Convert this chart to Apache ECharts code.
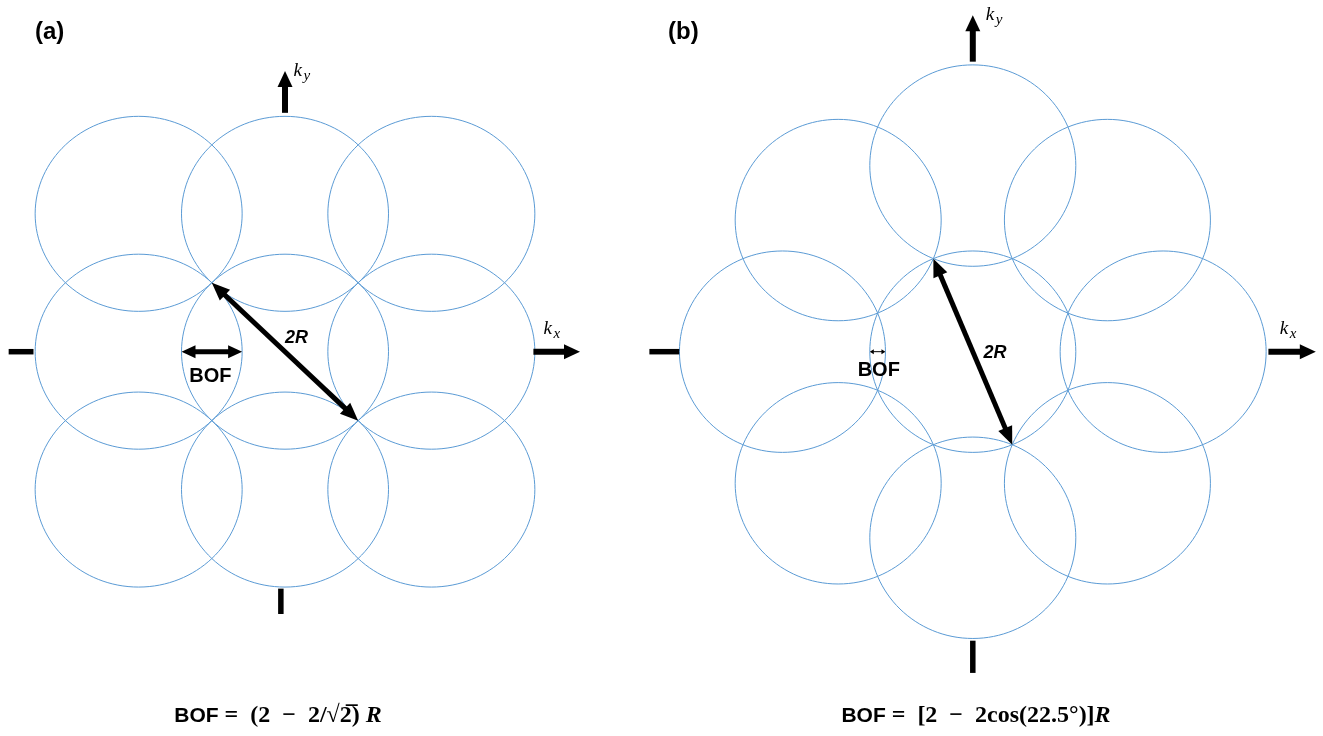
<!DOCTYPE html>
<html>
<head>
<meta charset="utf-8">
<script src="https://cdn.jsdelivr.net/npm/echarts@6/dist/echarts.min.js"></script>
<style>
html,body{margin:0;padding:0;background:#ffffff;}
#chart{width:1323px;height:736px;}
</style>
</head>
<body>
<div id="chart"></div>
<script>
// ================= DATA (all in units of the circle radius R) =================
const R = 1;

// (a) square lattice of 9 circles: centre coordinates
const centersA_x = [-1.414, 0, 1.414, -1.414, 0, 1.414, -1.414, 0, 1.414];
const centersA_y = [1.414, 1.414, 1.414, 0, 0, 0, -1.414, -1.414, -1.414];

// (b) centre circle + 8 circles around it
const centersB_x = [0, 1.848, 1.307, 0, -1.307, -1.848, -1.307, 0, 1.307];
const centersB_y = [0, 0, 1.307, 1.848, 1.307, 0, -1.307, -1.848, -1.307];

// segments [x1, y1, x2, y2] for panel (a)
const kyAxisA = [0, 2.45, 0, 2.88];
const kyTailA = [-0.04, -2.43, -0.04, -2.69];
const kxAxisA = [2.40, 0, 2.85, 0];
const kxTailA = [-2.67, 0, -2.43, 0];
const twoRA   = [-0.707, 0.707, 0.707, -0.707];
const bofA    = [-1, 0, -0.414, 0];

// segments [x1, y1, x2, y2] for panel (b)
const kyAxisB = [0, 2.88, 0, 3.34];
const kyTailB = [0, -2.87, 0, -3.19];
const kxAxisB = [2.87, 0, 3.33, 0];
const kxTailB = [-3.14, 0, -2.85, 0];
const twoRB   = [-0.383, 0.924, 0.383, -0.924];
const bofB    = [-1, 0, -0.848, 0];

// texts
const panelTitles = ['(a)', '(b)'];
const markLabels = ['2R', 'BOF'];
const axisLetter = 'k';
const axisSubs = ['x', 'y'];
const equationA = ['BOF', ' =  (2  −  2/√2\u0305) ', 'R'];
const equationB = ['BOF', ' =  [2  −  2cos(22.5°)]', 'R'];

// ================= STYLES / LAYOUT =================
const CIRCLE_COLOR = '#5b9bd5';
const AXIS  = {w: 6, hl: 16, hw: 15, start: false, end: true};
const TAIL  = {w: 5.5, hl: 0, hw: 0, start: false, end: false};
const TWO_R = {w: 5, hl: 18, hw: 15, start: true, end: true};
const BOF_BIG = {w: 5, hl: 14, hw: 13, start: true, end: true};
const BOF_SMALL = {w: 1, hl: 4, hw: 5, start: true, end: true};

const segsA = [kyAxisA, kyTailA, kxAxisA, kxTailA, twoRA, bofA];
const stylesA = [AXIS, TAIL, AXIS, TAIL, TWO_R, BOF_BIG];
const segsB = [kyAxisB, kyTailB, kxAxisB, kxTailB, twoRB, bofB];
const stylesB = [AXIS, TAIL, AXIS, TAIL, TWO_R, BOF_SMALL];

// label anchors (data coords) : 2R centre, BOF centre
const markPosA = [[0.111, 0.14], [-0.72, -0.254]];
const markPosB = [[0.215, -0.01], [-0.913, -0.19]];
// axis-name anchors (data coords, left / baseline of "k"): kx, ky
const axisNamePosA = [[2.498, 0.171], [0.082, 2.817]];
const axisNamePosB = [[2.981, 0.166], [0.125, 3.284]];

function arrowEls(p1, p2, st) {
  const dx = p2[0] - p1[0], dy = p2[1] - p1[1];
  const len = Math.hypot(dx, dy) || 1;
  const ux = dx / len, uy = dy / len, nx = -uy, ny = ux;
  const els = [];
  let s = p1.slice(), e = p2.slice();
  const head = (tip, d) => {
    const bx = tip[0] - d[0] * st.hl, by = tip[1] - d[1] * st.hl;
    return {type: 'polygon', shape: {points: [[tip[0], tip[1]],
      [bx + nx * st.hw / 2, by + ny * st.hw / 2], [bx - nx * st.hw / 2, by - ny * st.hw / 2]]},
      style: {fill: '#000'}};
  };
  if (st.start) { els.push(head(p1, [-ux, -uy])); s = [p1[0] + ux * st.hl * 0.85, p1[1] + uy * st.hl * 0.85]; }
  if (st.end) { els.push(head(p2, [ux, uy])); e = [p2[0] - ux * st.hl * 0.85, p2[1] - uy * st.hl * 0.85]; }
  els.unshift({type: 'line', shape: {x1: s[0], y1: s[1], x2: e[0], y2: e[1]},
    style: {stroke: '#000', lineWidth: st.w, lineCap: 'butt'}});
  return els;
}

function ellipseSeries(idx, xs, ys) {
  return {
    type: 'custom', xAxisIndex: idx, yAxisIndex: idx, silent: true,
    data: xs.map((x, i) => [x, ys[i]]),
    renderItem: (params, api) => {
      const c = api.coord([api.value(0), api.value(1)]);
      const s = api.size([R, R]);
      return {type: 'ellipse', shape: {cx: c[0], cy: c[1], rx: s[0], ry: s[1]},
        style: {fill: 'none', stroke: CIRCLE_COLOR, lineWidth: 1}};
    }
  };
}

function arrowSeries(idx, segs, styles) {
  return {
    type: 'custom', xAxisIndex: idx, yAxisIndex: idx, silent: true,
    data: segs.map(s => s.slice()),
    renderItem: (params, api) => {
      const p1 = api.coord([api.value(0), api.value(1)]);
      const p2 = api.coord([api.value(2), api.value(3)]);
      return {type: 'group', children: arrowEls(p1, p2, styles[params.dataIndex])};
    }
  };
}

function labelSeries(idx, markPos, namePos, bofSize) {
  const data = markPos.concat(namePos);
  return {
    type: 'custom', xAxisIndex: idx, yAxisIndex: idx, silent: true,
    data: data.map(p => p.slice()),
    renderItem: (params, api) => {
      const p = api.coord([api.value(0), api.value(1)]);
      const i = params.dataIndex;
      if (i === 0) {
        return {type: 'text', x: p[0], y: p[1], style: {text: markLabels[0],
          font: 'italic bold 18px "Liberation Sans", Arial, sans-serif', fill: '#000',
          align: 'center', verticalAlign: 'middle'}};
      }
      if (i === 1) {
        return {type: 'text', x: p[0], y: p[1], style: {text: markLabels[1],
          font: 'bold ' + bofSize + 'px "Liberation Sans", Arial, sans-serif', fill: '#000',
          align: 'center', verticalAlign: 'middle'}};
      }
      const sub = axisSubs[i - 2];
      const kfs = 19, sfs = 15;
      return {type: 'group', children: [
        {type: 'text', x: p[0], y: p[1] - 0.34 * kfs, style: {text: axisLetter,
          font: 'italic ' + kfs + 'px "Liberation Serif", "DejaVu Serif", serif', fill: '#000',
          align: 'left', verticalAlign: 'middle'}},
        {type: 'text', x: p[0] + 10, y: p[1] + 4 - 0.34 * sfs, style: {text: sub,
          font: 'italic ' + sfs + 'px "Liberation Serif", "DejaVu Serif", serif', fill: '#000',
          align: 'left', verticalAlign: 'middle'}}
      ]};
    }
  };
}

function eqText(cx, cy, parts) {
  return {
    type: 'text', x: cx, y: cy,
    style: {
      text: '{b|' + parts[0] + '}{m|' + parts[1] + '}{r|' + parts[2] + '}',
      align: 'center', verticalAlign: 'middle',
      rich: {
        b: {font: 'bold 21px "Liberation Sans", Arial, sans-serif', fill: '#000'},
        m: {font: 'bold 24px "Liberation Serif", "DejaVu Serif", serif', fill: '#000'},
        r: {font: 'italic bold 24px "Liberation Serif", "DejaVu Serif", serif', fill: '#000'}
      }
    }
  };
}

const chart = echarts.init(document.getElementById('chart'), null, {renderer: 'canvas'});
const titleStyle = {fontFamily: '"Liberation Sans", Arial, sans-serif', fontWeight: 'bold', fontSize: 24, color: '#000'};
const option = {
  animation: false,
  backgroundColor: '#ffffff',
  grid: [
    {left: 5.55, top: 20.2, width: 579.6, height: 711.75},
    {left: 643.2, top: 9.3, width: 686.4, height: 714.97}
  ],
  xAxis: [
    {type: 'value', gridIndex: 0, min: -2.7, max: 2.9, show: false},
    {type: 'value', gridIndex: 1, min: -3.2, max: 3.4, show: false}
  ],
  yAxis: [
    {type: 'value', gridIndex: 0, min: -3.9, max: 3.4, show: false},
    {type: 'value', gridIndex: 1, min: -3.7, max: 3.4, show: false}
  ],
  title: [
    {text: panelTitles[0], left: 30, top: 15, textStyle: titleStyle},
    {text: panelTitles[1], left: 663, top: 15, textStyle: titleStyle}
  ],
  graphic: [eqText(278, 716, equationA), eqText(976, 716, equationB)],
  series: [
    ellipseSeries(0, centersA_x, centersA_y),
    ellipseSeries(1, centersB_x, centersB_y),
    arrowSeries(0, segsA, stylesA),
    arrowSeries(1, segsB, stylesB),
    labelSeries(0, markPosA, axisNamePosA, 20),
    labelSeries(1, markPosB, axisNamePosB, 20)
  ]
};
chart.setOption(option);
</script>
</body>
</html>
